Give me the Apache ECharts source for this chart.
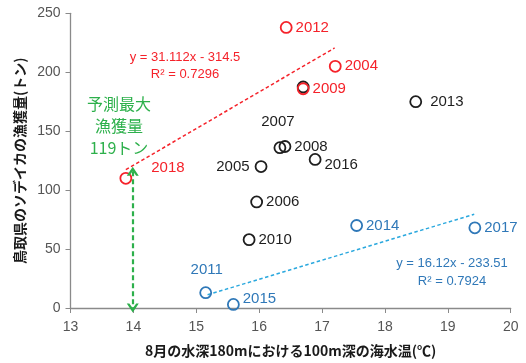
<!DOCTYPE html>
<html>
<head>
<meta charset="utf-8">
<script src="https://cdn.jsdelivr.net/npm/echarts@6/dist/echarts.min.js"></script>
<style>
  html, body { margin: 0; padding: 0; background: #fff; }
  #chart { width: 526px; height: 363px; }
</style>
</head>
<body>
<div id="chart"></div>
<script>
// 8月の水深180m・100m深の海水温 と ソデイカ漁獲量
const xTicks = [13, 14, 15, 16, 17, 18, 19, 20];
const yTicks = [0, 50, 100, 150, 200, 250];

// 平年並み（黒）
const blackYears = ['2013', '2007', '2008', '2016', '2005', '2006', '2010', ''];
const blackTemp  = [18.49, 16.33, 16.41, 16.89, 16.03, 15.96, 15.84, 16.70];
const blackCatch = [175, 136, 137, 126, 120, 90, 58, 187.5];

// 豊漁年（赤）と 2018年
const redYears = ['2012', '2004', '2009', '2018'];
const redTemp  = [16.43, 17.21, 16.70, 13.88];
const redCatch = [238, 205, 186, 110];

// 不漁年（青）
const blueYears = ['2011', '2015', '2014', '2017'];
const blueTemp  = [15.15, 15.59, 17.55, 19.43];
const blueCatch = [13, 3, 70, 68];

// 近似直線
const redSlope = 31.112, redIntercept = -314.5, redR2 = '0.7296';
const redRange = [13.88, 17.2];
const blueSlope = 16.12, blueIntercept = -233.51, blueR2 = '0.7924';
const blueRange = [15.18, 19.42];

// 2018年の予測最大漁獲量
const forecastTemp = 13.99;
const forecastMax = 119;
const arrowTop = 116;

const font = '"Liberation Sans", "Noto Sans CJK JP", sans-serif';
const jpFont = '"Noto Sans CJK JP", "Liberation Sans", sans-serif';

const RED = '#f5222a';
const BLACK = '#1e1e1e';
const BLUE = '#2f78b8';
const CYAN = '#2aa8de';
const GREEN = '#2db04b';

// ラベル位置の個別調整
const labelTweak = {
  '2007': { position: 'top', distance: 12, offset: [-2, 0] },
  '2005': { position: 'left', distance: 5 },
  '2016': { offset: [0, 5] },
  '2011': { position: 'top', distance: 9, offset: [1, 0] },
  '2015': { offset: [0, -6] },
  '2018': { offset: [16, -10] },
  '2013': { distance: 8 }
};

function points(years, temps, vals) {
  return years.map((y, i) => {
    const item = { value: [temps[i], vals[i]], name: y };
    if (!y) item.label = { show: false };
    else if (labelTweak[y]) item.label = labelTweak[y];
    return item;
  });
}

function scatter(years, temps, vals, color) {
  return {
    type: 'scatter',
    symbol: 'circle',
    symbolSize: 11,
    itemStyle: { color: 'rgba(255,255,255,0)', borderColor: color, borderWidth: 1.8, opacity: 1 },
    label: {
      show: true, position: 'right', distance: 3,
      formatter: p => p.name, color: color,
      fontSize: 15, fontFamily: font
    },
    data: points(years, temps, vals),
    z: 3
  };
}

function trend(slope, intercept, range, color) {
  return {
    type: 'line', symbol: 'none', silent: true,
    lineStyle: { color: color, width: 1.5, type: [3.5, 2.5] },
    data: range.map(x => [x, slope * x + intercept]),
    z: 2
  };
}

// 開いた矢じり
const chevron = 'path://M0,10 L6,0 L12,10 L9.4,10 L6,4.6 L2.6,10 Z';

const chart = echarts.init(document.getElementById('chart'));
chart.setOption({
  animation: false,
  grid: { left: 70.5, right: 15.3, top: 13.3, bottom: 54.7 },
  xAxis: {
    type: 'value', min: xTicks[0], max: xTicks[xTicks.length - 1], interval: 1,
    name: '8月の水深180mにおける100m深の海水温(℃)',
    nameLocation: 'middle', nameGap: 36,
    nameTextStyle: { color: '#1a1a1a', fontSize: 14, fontWeight: 'bold', fontFamily: jpFont },
    axisLine: { lineStyle: { color: '#8a8a8a', width: 1.3 } },
    axisTick: { show: true, length: 5, lineStyle: { color: '#8a8a8a' } },
    axisLabel: { color: '#555', fontSize: 14, margin: 12, fontFamily: font },
    splitLine: { show: false }
  },
  yAxis: {
    type: 'value', min: yTicks[0], max: yTicks[yTicks.length - 1], interval: 50,
    name: '鳥取県のソデイカの漁獲量(トン)',
    nameLocation: 'middle', nameGap: 42,
    nameTextStyle: { color: '#1a1a1a', fontSize: 14, fontWeight: 'bold', fontFamily: jpFont },
    axisLine: { show: true, lineStyle: { color: '#8a8a8a', width: 1.3 } },
    axisTick: { show: true, length: 5, lineStyle: { color: '#8a8a8a' } },
    axisLabel: { color: '#555', fontSize: 14, margin: 10, fontFamily: font },
    splitLine: { show: false }
  },
  series: [
    trend(redSlope, redIntercept, redRange, RED),
    trend(blueSlope, blueIntercept, blueRange, CYAN),
    {
      type: 'line', data: [], silent: true,
      markLine: {
        silent: true, animation: false,
        symbol: [chevron, chevron],
        symbolSize: [12, 9],
        lineStyle: { color: GREEN, width: 2.2, type: [5, 3] },
        label: { show: false },
        data: [[{ coord: [forecastTemp, arrowTop] }, { coord: [forecastTemp, 0] }]]
      },
      z: 2
    },
    scatter(blackYears, blackTemp, blackCatch, BLACK),
    scatter(redYears, redTemp, redCatch, RED),
    scatter(blueYears, blueTemp, blueCatch, BLUE)
  ],
  graphic: [
    {
      type: 'text', x: 185, y: 49, z: 10,
      style: {
        text: 'y = ' + redSlope + 'x - ' + Math.abs(redIntercept) + '\nR² = ' + redR2,
        fill: RED, font: '13px ' + font, lineHeight: 17, align: 'center', verticalAlign: 'top'
      }
    },
    {
      type: 'text', x: 452, y: 254, z: 10,
      style: {
        text: 'y = ' + blueSlope + 'x - ' + Math.abs(blueIntercept) + '\nR² = ' + blueR2,
        fill: BLUE, font: '13px ' + font, lineHeight: 18, align: 'center', verticalAlign: 'top'
      }
    },
    {
      type: 'text', x: 119, y: 93, z: 10,
      style: {
        text: '予測最大\n漁獲量\n' + forecastMax + 'トン',
        fill: GREEN, font: '16px ' + jpFont, lineHeight: 22, align: 'center', verticalAlign: 'top'
      }
    }
  ]
});
</script>
</body>
</html>
